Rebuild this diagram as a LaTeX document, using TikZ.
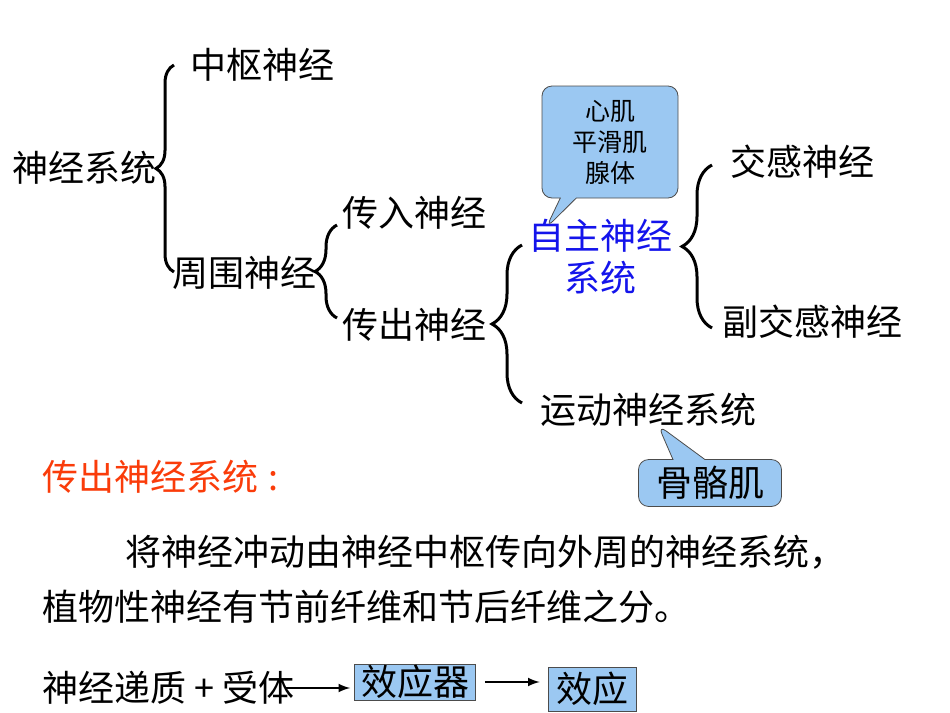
\documentclass[tikz,border=0pt]{standalone}
\usepackage{fontspec}
\newfontfamily\cjk{Noto Sans CJK SC}
\usetikzlibrary{arrows}
\usetikzlibrary{positioning}
\usetikzlibrary{decorations.pathreplacing}
\usetikzlibrary{shapes.callouts}
\definecolor{autoblue}{RGB}{20,20,235}
\definecolor{headred}{RGB}{250,60,10}
\definecolor{notefill}{RGB}{155,200,242}
\begin{document}
\begin{tikzpicture}[x=0.5pt,y=-0.5pt,>=latex,
  term node/.style={font=\cjk\fontsize{18}{21}\selectfont,inner sep=0pt,anchor=west},
  brace line/.style={decorate,decoration={brace,amplitude=#1},line width=1.5pt},
  note node/.style={rectangle callout,rounded corners=5pt,draw=black!70,fill=notefill,align=center},
  box node/.style={rectangle,draw=black!70,fill=notefill,inner sep=0pt,font=\cjk\fontsize{18}{21}\selectfont}]

  \useasboundingbox (0,0) rectangle (950,713);

  % tree of terms
  \node[term node] (SJXT) at (12,168) {神经系统};
  \node[term node] (ZS) at (190,65) {中枢神经};
  \node[term node] (ZW) at (172,273) {周围神经};
  \node[term node] (CR) at (342,213) {传入神经};
  \node[term node] (CC) at (342,325) {传出神经};
  \node[term node,anchor=center,align=center,text=autoblue] (ZZ) at (600,257) {自主神经\\系统};
  \node[term node] (JG) at (730,162) {交感神经};
  \node[term node] (FJG) at (722,322) {副交感神经};
  \node[term node] (YD) at (540,410) {运动神经系统};

  % braces
  \coordinate (b1t) at (174,65);
  \coordinate (b1b) at (174,272);
  \coordinate (b2t) at (337,225);
  \coordinate (b2b) at (337,318);
  \coordinate (b3t) at (522,245);
  \coordinate (b3b) at (522,403);
  \coordinate (b4t) at (712,165);
  \coordinate (b4b) at (712,328);
  \draw[brace line=9pt] (b1b) -- (b1t);
  \draw[brace line=11pt] (b2b) -- (b2t);
  \draw[brace line=15pt] (b3b) -- (b3t);
  \draw[brace line=15pt] (b4b) -- (b4t);

  % callouts
  \node[note node,minimum width=68pt,minimum height=56pt,callout pointer width=8pt,
    callout absolute pointer={(546,228)},font=\cjk\fontsize{12.5}{15.5}\selectfont] (XJ) at (610,142) {心肌\\平滑肌\\腺体};
  \node[note node,minimum width=71.5pt,minimum height=21pt,callout pointer width=16pt,
    callout absolute pointer={(658,425)},font=\cjk\fontsize{18}{21}\selectfont] (GGJ) at (710,483) {骨骼肌};

  % text below
  \node[term node,text=headred] (CCXT) at (42,477) {传出神经系统\hspace{5pt}:};
  \node[term node] (P1) at (125,552) {将神经冲动由神经中枢传向外周的神经系统，};
  \node[term node] (P2) at (42,607) {植物性神经有节前纤维和节后纤维之分。};

  % effector row
  \node[term node] (DZ) at (42,688) {神经递质 + 受体};
  \node[box node,minimum width=60.5pt,minimum height=18pt] (XYQ) at (415,682) {效应器};
  \node[box node,minimum width=44pt,minimum height=22pt] (XY) at (592,689) {效应};
  \draw[->,line width=1pt,shorten >=2pt] ([xshift=-5pt]DZ.east) -- (DZ.east -| XYQ.west);
  \draw[->,line width=1pt,shorten <=4.5pt,shorten >=4pt] (XYQ.east) -- (XYQ.east -| XY.west);
\end{tikzpicture}
\end{document}
